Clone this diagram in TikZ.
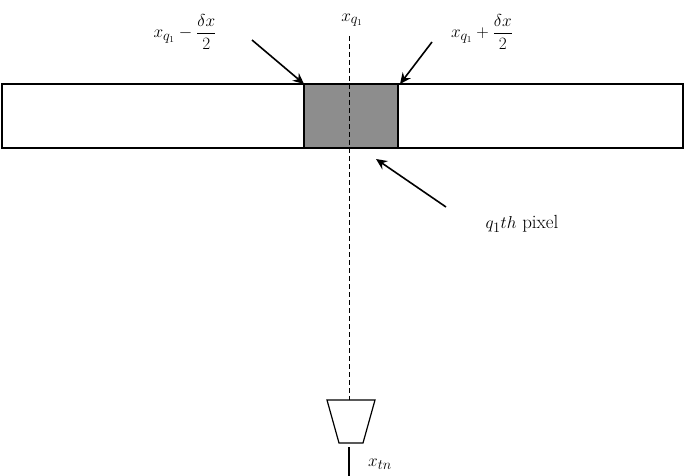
\documentclass[tikz,border=0pt]{standalone}
\usepackage{amsmath}
\usetikzlibrary{arrows.meta}
\begin{document}
\begin{tikzpicture}[x=1pt,y=-1pt,
  lbl/.style={font=\fontsize{19}{22}\selectfont, inner sep=1pt},
  arr/.style={line width=1.6pt,-{Stealth[length=11pt,width=10pt]}},
  box/.style={draw,line width=1.2pt}]
\useasboundingbox (0,0) rectangle (685,476);
\draw[box] (2,84) rectangle (683,148);
\draw[box,fill=gray!95!black!85] (304,84) rectangle (398,148);
\coordinate (pl) at (304,84);
\coordinate (pr) at (400,84);
\coordinate (pm) at (376,159);
\node[lbl] (l1) at (185,32) {$x_{q_1}-\dfrac{\delta x}{2}$};
\node[lbl] (l2) at (352,20) {$x_{q_1}$};
\node[lbl] (l3) at (482,32) {$x_{q_1}+\dfrac{\delta x}{2}$};
\node[lbl] (l4) at (522,224) {$q_1 th$ pixel};
\node[lbl] (l5) at (380,464) {$x_{tn}$};
\coordinate (d1) at (349,36);
\coordinate (d2) at (349,400);
\draw[dashed,line width=1pt,dash pattern=on 5pt off 3pt] (d1) -- (d2);
\draw[line width=1.2pt] (327,400) -- (375,400) -- (363,443) -- (339,443) -- cycle;
\coordinate (s1) at (349,447);
\coordinate (s2) at (349,476);
\draw[line width=1.6pt] (s1) -- (s2);
\draw[arr] (252,40) -- (pl);
\draw[arr] (432,42) -- (pr);
\draw[arr] (446,207) -- (pm);
\end{tikzpicture}
\end{document}
